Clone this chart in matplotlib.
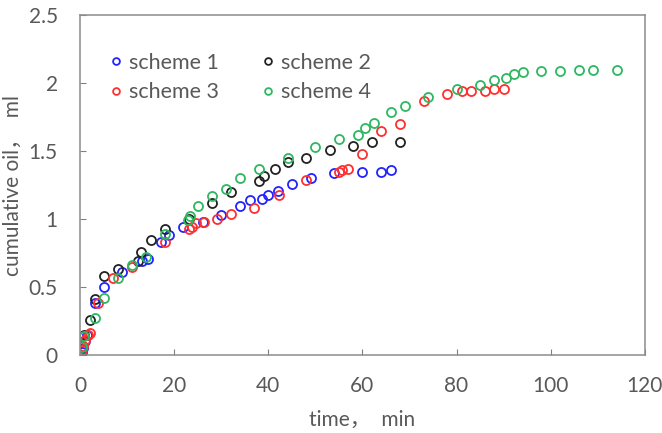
import numpy as np
import matplotlib.pyplot as plt

# scheme 1 (blue)
t1 = [0.3, 0.6, 1.0, 1.5, 3.2, 5.0, 9.0, 13.2, 14.4, 17.1, 18.9, 21.9, 26.1, 30.0, 34.0, 36.0,
      38.6, 39.9, 42.1, 45.0, 49.1, 54.0, 60.0, 64.0, 66.0]
q1 = [0.02, 0.05, 0.10, 0.15, 0.38, 0.50, 0.61, 0.69, 0.71, 0.83, 0.88, 0.94, 0.98, 1.03, 1.10, 1.14,
      1.15, 1.18, 1.21, 1.26, 1.30, 1.34, 1.35, 1.35, 1.36]

# scheme 2 (black)
t2 = [0.5, 0.9, 2.0, 3.2, 5.0, 8.1, 12.4, 13.0, 15.0, 18.0, 23.2, 28.1, 32.0, 38.1, 39.0, 41.5,
      44.1, 48.0, 53.0, 58.0, 62.0, 68.0]
q2 = [0.06, 0.15, 0.26, 0.41, 0.58, 0.63, 0.69, 0.76, 0.845, 0.925, 1.00, 1.115, 1.20, 1.28, 1.315, 1.37,
      1.42, 1.45, 1.51, 1.54, 1.565, 1.565]

# scheme 3 (red)
t3 = [0.3, 0.6, 1.1, 1.6, 2.1, 3.9, 7.0, 11.1, 18.0, 23.2, 23.7, 24.6, 26.3, 29.0, 32.0, 37.0,
      42.2, 48.0, 55.0, 55.7, 57.0, 60.0, 64.0, 68.0, 73.0, 77.9, 81.1, 83.1, 86.0, 88.0, 90.0]
q3 = [0.04, 0.07, 0.11, 0.15, 0.16, 0.385, 0.57, 0.65, 0.83, 0.925, 0.94, 0.97, 0.98, 1.00, 1.035, 1.08,
      1.18, 1.29, 1.35, 1.36, 1.365, 1.48, 1.645, 1.70, 1.865, 1.92, 1.94, 1.94, 1.945, 1.955, 1.96]

# scheme 4 (green)
t4 = [0.3, 0.9, 3.2, 5.0, 8.1, 11.1, 14.0, 18.0, 23.0, 23.4, 25.0, 28.1, 31.1, 34.0, 38.1, 44.1,
      50.0, 55.0, 59.0, 60.5, 62.5, 66.0, 69.0, 74.0, 80.0, 85.0, 88.0, 90.5, 92.3, 94.1, 97.9,
      102.0, 106.0, 109.0, 114.1]
q4 = [0.06, 0.14, 0.275, 0.42, 0.565, 0.66, 0.72, 0.89, 0.99, 1.02, 1.10, 1.17, 1.22, 1.30, 1.365, 1.45,
      1.53, 1.59, 1.62, 1.67, 1.71, 1.79, 1.83, 1.90, 1.96, 1.985, 2.02, 2.04, 2.065, 2.08, 2.09,
      2.09, 2.095, 2.10, 2.10]

series = [("scheme 1", t1, q1, "#2323ff"), ("scheme 2", t2, q2, "#222222"),
          ("scheme 3", t3, q3, "#ff3030"), ("scheme 4", t4, q4, "#2db862")]

grey = "#595959"
plt.rcParams["font.family"] = ["Lato", "Noto Sans CJK SC", "DejaVu Sans"]

fig = plt.figure(figsize=(6.62, 4.33), dpi=100)
ax = fig.add_axes([0.121, 0.180, 0.853, 0.785])

handles = {}
for name, t, q, c in series:
    h, = ax.plot(t, q, linestyle="none", marker="o", markersize=6.5, markerfacecolor="none",
                 markeredgecolor=c, markeredgewidth=1.3, label=name)
    handles[name] = h

ax.set_xlim(0, 120)
ax.set_ylim(0, 2.5)
ax.set_xticks(np.arange(0, 121, 20))
ax.set_yticks([0, 0.5, 1, 1.5, 2, 2.5])
ax.set_yticklabels(["0", "0.5", "1", "1.5", "2", "2.5"])
ax.tick_params(direction="in", colors="#808080", labelcolor=grey, labelsize=15, length=4.5)
ax.tick_params(axis="x", pad=15)
ax.tick_params(axis="y", pad=16)
for s in ax.spines.values():
    s.set_color("#8c8c8c")
    s.set_linewidth(1.1)

ax.set_xlabel("time，  min", fontsize=15, color=grey, labelpad=10)
ax.set_ylabel("cumulative oil，  ml", fontsize=15, color=grey, labelpad=4)

# row order: scheme 1 | scheme 2 over scheme 3 | scheme 4
order = ["scheme 1", "scheme 3", "scheme 2", "scheme 4"]
leg = ax.legend([handles[n] for n in order], order, ncol=2, loc="upper left",
                bbox_to_anchor=(0.03, 0.915), frameon=False, fontsize=15.5,
                handletextpad=0.1, columnspacing=1.75, labelspacing=0.45,
                handlelength=1.0, markerscale=0.75, borderaxespad=0)
for txt in leg.get_texts():
    txt.set_color(grey)

fig.savefig("out.png", dpi=100)
